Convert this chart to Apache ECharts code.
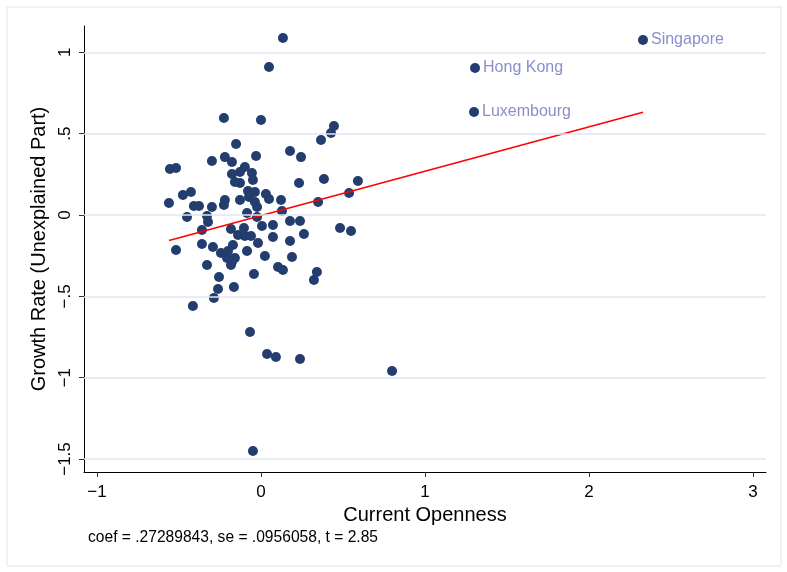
<!DOCTYPE html>
<html>
<head>
<meta charset="utf-8">
<script src="https://cdn.jsdelivr.net/npm/echarts@6/dist/echarts.min.js"></script>
<style>html,body{margin:0;padding:0;background:#fff;}#c{width:787px;height:572px;}</style>
</head>
<body>
<div id="c"></div>
<script>
// Labeled countries
var labeledNames = ['Singapore', 'Hong Kong', 'Luxembourg'];
var labeledX = [2.329, 1.305, 1.299];
var labeledY = [1.076, 0.904, 0.633];

// Other countries: current openness (x) and growth rate, unexplained part (y)
var openness = [0.134,0.049,-0.226,0.000,0.445,0.427,0.366,-0.152,0.177,0.244,-0.030,-0.220,-0.299,-0.177,-0.555,-0.518,-0.098,-0.128,-0.177,-0.055,-0.159,-0.128,-0.049,0.232,0.384,0.591,0.537,-0.476,-0.427,-0.561,-0.409,-0.378,-0.299,-0.220,-0.226,-0.128,-0.079,-0.037,-0.073,-0.037,-0.024,0.030,0.049,0.122,0.348,-0.085,-0.024,0.128,-0.451,-0.329,-0.323,-0.360,-0.183,-0.104,0.006,0.073,0.177,0.238,0.482,0.549,-0.140,-0.098,-0.061,0.073,0.262,0.177,-0.018,-0.518,-0.360,-0.293,-0.244,-0.201,-0.171,-0.207,-0.177,-0.159,-0.183,-0.085,0.024,0.189,-0.329,0.104,0.134,0.341,0.323,-0.043,-0.256,-0.262,-0.165,-0.287,-0.415,-0.067,0.037,0.091,0.238,0.799,-0.049];
var growth = [1.088,0.910,0.596,0.584,0.547,0.504,0.461,0.436,0.393,0.356,0.363,0.356,0.332,0.326,0.283,0.289,0.295,0.264,0.252,0.258,0.203,0.197,0.215,0.197,0.221,0.209,0.135,0.123,0.141,0.074,0.055,0.055,0.049,0.092,0.061,0.092,0.148,0.141,0.111,0.080,0.049,0.129,0.098,0.092,0.080,0.012,-0.012,0.025,-0.012,-0.006,-0.043,-0.092,-0.086,-0.080,-0.068,-0.061,-0.037,-0.037,-0.080,-0.098,-0.123,-0.129,-0.129,-0.135,-0.117,-0.160,-0.172,-0.215,-0.178,-0.197,-0.234,-0.221,-0.184,-0.264,-0.289,-0.264,-0.307,-0.221,-0.252,-0.258,-0.307,-0.320,-0.338,-0.350,-0.400,-0.363,-0.381,-0.455,-0.443,-0.510,-0.559,-0.719,-0.854,-0.873,-0.885,-0.959,-1.451];

// Fit line
var coef = 0.27289843;
var intercept = -0.004;

var xTicks = [-1, 0, 1, 2, 3];
var yTicks = [-1.5, -1, -0.5, 0, 0.5, 1];
var yTickLabels = ['\u22121.5', '\u22121', '\u2212.5', '0', '.5', '1'];
var xTickLabels = ['\u22121', '0', '1', '2', '3'];

var allX = openness.concat(labeledX);
var xmin = Math.min.apply(null, allX), xmax = Math.max.apply(null, allX);

var FONT = '"Liberation Sans", Arial, Helvetica, sans-serif';
var chart = echarts.init(document.getElementById('c'));

var pts = openness.map(function (x, i) { return [x, growth[i]]; });
var lab = labeledX.map(function (x, i) { return { value: [x, labeledY[i]], name: labeledNames[i] }; });

chart.setOption({
  animation: false,
  backgroundColor: '#fff',
  grid: { left: 84, right: 21, top: 26, bottom: 100, containLabel: false },
  xAxis: {
    type: 'value', min: -1.079, max: 3.079,
    name: 'Current Openness', nameLocation: 'middle', nameGap: 32,
    nameTextStyle: { fontFamily: FONT, fontSize: 20, color: '#000' },
    axisLine: { show: true, onZero: false, lineStyle: { color: '#000', width: 1 } },
    axisTick: { show: true, length: 5, lineStyle: { color: '#333' }, customValues: xTicks },
    axisLabel: { fontFamily: FONT, fontSize: 17, color: '#000', margin: 12, customValues: xTicks,
      formatter: function (v) { var i = xTicks.indexOf(v); return i >= 0 ? xTickLabels[i] : ''; } },
    splitLine: { show: false }
  },
  yAxis: {
    type: 'value', min: -1.58, max: 1.162,
    name: 'Growth Rate (Unexplained Part)', nameLocation: 'middle', nameGap: 35,
    nameTextStyle: { fontFamily: FONT, fontSize: 20, color: '#000' },
    axisLine: { show: true, onZero: false, lineStyle: { color: '#000', width: 1 } },
    axisTick: { show: true, length: 5, lineStyle: { color: '#333' }, customValues: yTicks },
    axisLabel: { fontFamily: FONT, fontSize: 17, color: '#000', rotate: 90, margin: 10, customValues: yTicks,
      formatter: function (v) { var i = yTicks.indexOf(v); return i >= 0 ? yTickLabels[i] : ''; } },
    splitLine: { show: false }
  },
  graphic: [
    { type: 'rect', shape: { x: 7, y: 7, width: 774, height: 559 }, style: { fill: 'none', stroke: '#dfe4ee', lineWidth: 1 }, silent: true },
    { type: 'text', left: 88, top: 530, style: { text: 'coef = .27289843, se = .0956058, t = 2.85', font: '15.6px ' + FONT, fill: '#000' } }
  ],
  series: [
    {
      type: 'line', data: [], silent: true,
      markLine: {
        silent: true, symbol: 'none', label: { show: false }, animation: false,
        lineStyle: { color: '#e1e6f0', width: 1.5, type: 'solid' },
        data: yTicks.map(function (v) { return { yAxis: v }; })
      }
    },
    {
      type: 'scatter', data: pts, symbol: 'circle', symbolSize: 10,
      itemStyle: { color: '#233d6e', opacity: 1 }, z: 3
    },
    {
      type: 'scatter', data: lab, symbol: 'circle', symbolSize: 10,
      itemStyle: { color: '#233d6e', opacity: 1 }, z: 3,
      label: { show: true, position: 'right', distance: 3, formatter: '{b}',
        fontFamily: FONT, fontSize: 16, color: '#8a8ecb' }
    },
    {
      type: 'line', symbol: 'none', silent: true, z: 4,
      data: [[xmin, intercept + coef * xmin], [xmax, intercept + coef * xmax]],
      lineStyle: { color: '#ff0000', width: 1.5 }
    }
  ]
});
</script>
</body>
</html>
